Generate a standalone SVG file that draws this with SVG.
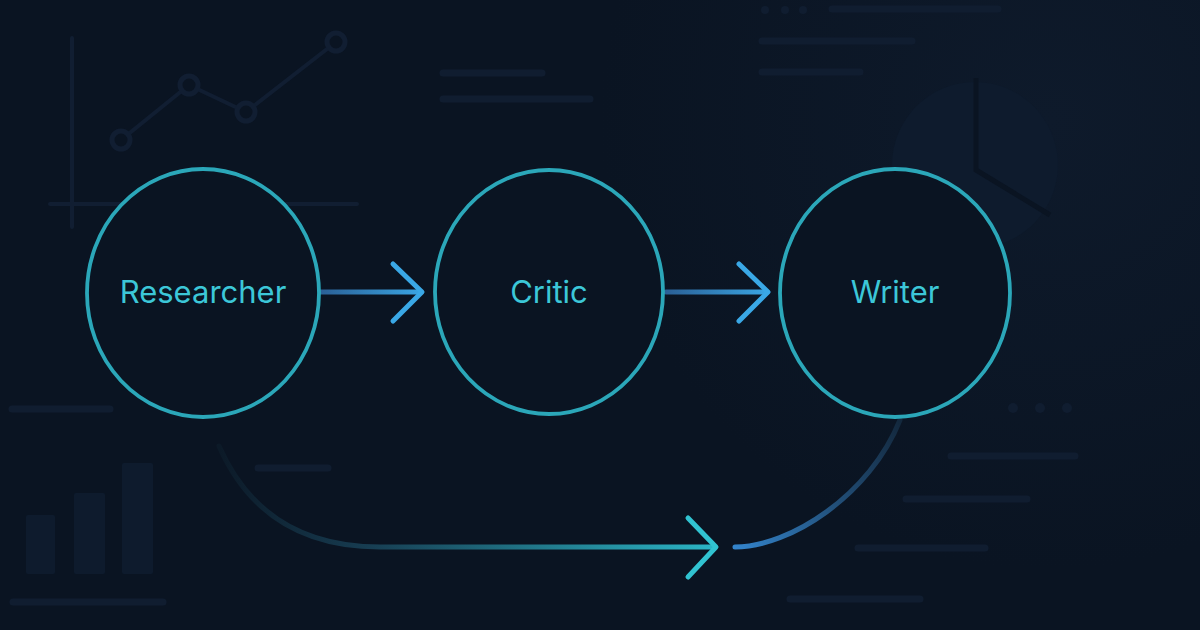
<svg xmlns="http://www.w3.org/2000/svg" width="1200" height="630" viewBox="0 0 1200 630">
  <defs>
    <radialGradient id="bgGlow" cx="1050" cy="120" r="450" gradientUnits="userSpaceOnUse">
      <stop offset="0" stop-color="#0e1a2b"/>
      <stop offset="1" stop-color="#0a1422"/>
    </radialGradient>
    <linearGradient id="g1" x1="319" y1="0" x2="423" y2="0" gradientUnits="userSpaceOnUse">
      <stop offset="0" stop-color="#2a5f95"/>
      <stop offset="1" stop-color="#3aa6e4"/>
    </linearGradient>
    <linearGradient id="g2" x1="665" y1="0" x2="769" y2="0" gradientUnits="userSpaceOnUse">
      <stop offset="0" stop-color="#2a5f95"/>
      <stop offset="1" stop-color="#3aa6e4"/>
    </linearGradient>
    <linearGradient id="g3" x1="220" y1="0" x2="716" y2="0" gradientUnits="userSpaceOnUse">
      <stop offset="0" stop-color="#0c1a28"/>
      <stop offset="0.3" stop-color="#173d52"/>
      <stop offset="1" stop-color="#2bb6c6"/>
    </linearGradient>
    <linearGradient id="g4" x1="734" y1="547" x2="900" y2="420" gradientUnits="userSpaceOnUse">
      <stop offset="0" stop-color="#3384cc"/>
      <stop offset="0.5" stop-color="#22507a"/>
      <stop offset="1" stop-color="#13283d"/>
    </linearGradient>
    <style>
      .deco { stroke: #111e32; stroke-linecap: round; fill: none; }
      .bar { stroke: #101d30; stroke-width: 7; stroke-linecap: round; }
      .dot { fill: #101d30; }
      .blk { fill: #0e1b2d; }
      .node { fill: #0a1422; stroke: #2ba7b9; stroke-width: 3.8; }
      .label { font-family: Inter, "Liberation Sans", sans-serif; font-size: 31px; fill: #3cc7d8; text-anchor: middle; }
      .conn { fill: none; stroke-linecap: round; stroke-linejoin: round; }
    </style>
  </defs>

  <rect width="1200" height="630" fill="url(#bgGlow)"/>

  <!-- background decorations -->
  <g id="decor">
    <path class="deco" stroke-width="4" d="M72 38 V227 M50 204 H357"/>
    <polyline class="deco" stroke-width="4" points="121,140 189,85 246,112 336,42"/>
    <g class="deco" stroke-width="5">
      <circle cx="121" cy="140" r="9" fill="#0a1422"/>
      <circle cx="189" cy="85" r="9" fill="#0a1422"/>
      <circle cx="246" cy="112" r="9" fill="#0a1422"/>
      <circle cx="336" cy="42" r="9" fill="#0a1422"/>
    </g>
    <line class="bar" x1="443" y1="73" x2="542" y2="73"/>
    <line class="bar" x1="443" y1="99" x2="590" y2="99"/>
    <circle class="dot" cx="765" cy="10" r="4"/>
    <circle class="dot" cx="785" cy="10" r="4"/>
    <circle class="dot" cx="803" cy="10" r="4"/>
    <line class="bar" x1="832" y1="9" x2="998" y2="9" stroke-width="10"/>
    <line class="bar" x1="762" y1="41" x2="912" y2="41" stroke-width="9"/>
    <line class="bar" x1="762" y1="72" x2="860" y2="72" stroke-width="9"/>
    <circle class="blk" cx="975" cy="165" r="83"/>
    <path d="M976 78 V170 L1050 215" fill="none" stroke="#0a1422" stroke-width="5"/>
    <line class="bar" x1="12" y1="409" x2="110" y2="409"/>
    <rect class="blk" x="26" y="515" width="29" height="59" rx="2"/>
    <rect class="blk" x="74" y="493" width="31" height="81" rx="2"/>
    <rect class="blk" x="122" y="463" width="31" height="111" rx="2"/>
    <line class="bar" x1="13" y1="602" x2="163" y2="602"/>
    <line class="bar" x1="258" y1="468" x2="328" y2="468" stroke-width="6"/>
    <circle class="dot" cx="1013" cy="408" r="5"/>
    <circle class="dot" cx="1040" cy="408" r="5"/>
    <circle class="dot" cx="1067" cy="408" r="5"/>
    <line class="bar" x1="951" y1="456" x2="1075" y2="456"/>
    <line class="bar" x1="906" y1="499" x2="1027" y2="499"/>
    <line class="bar" x1="858" y1="548" x2="985" y2="548"/>
    <line class="bar" x1="790" y1="599" x2="920" y2="599"/>
  </g>

  <!-- connectors -->
  <g id="connectors">
    <line class="conn" x1="320" y1="292" x2="421" y2="292" stroke="url(#g1)" stroke-width="5"/>
    <polyline class="conn" points="393,264 422,292 393,321" stroke="#3aa8e6" stroke-width="5"/>
    <line class="conn" x1="666" y1="292" x2="767" y2="292" stroke="url(#g2)" stroke-width="5"/>
    <polyline class="conn" points="739,264 768,292 739,321" stroke="#3aa8e6" stroke-width="5"/>
    <path class="conn" d="M219 446 C 248 512, 300 547, 380 547 L 714 547" stroke="url(#g3)" stroke-width="5"/>
    <polyline class="conn" points="688,518 716,547 688,577" stroke="#31c3d1" stroke-width="5"/>
    <path class="conn" d="M735 547 C 790 547, 870 495, 900 420" stroke="url(#g4)" stroke-width="5"/>
  </g>

  <!-- nodes -->
  <g id="researcher">
    <ellipse class="node" cx="203" cy="293" rx="116" ry="124"/>
    <text class="label" x="203" y="303">Researcher</text>
  </g>
  <g id="critic">
    <ellipse class="node" cx="549" cy="292" rx="114" ry="122"/>
    <text class="label" x="549" y="303">Critic</text>
  </g>
  <g id="writer">
    <ellipse class="node" cx="895" cy="293" rx="115" ry="124"/>
    <text class="label" x="895" y="303">Writer</text>
  </g>
</svg>
